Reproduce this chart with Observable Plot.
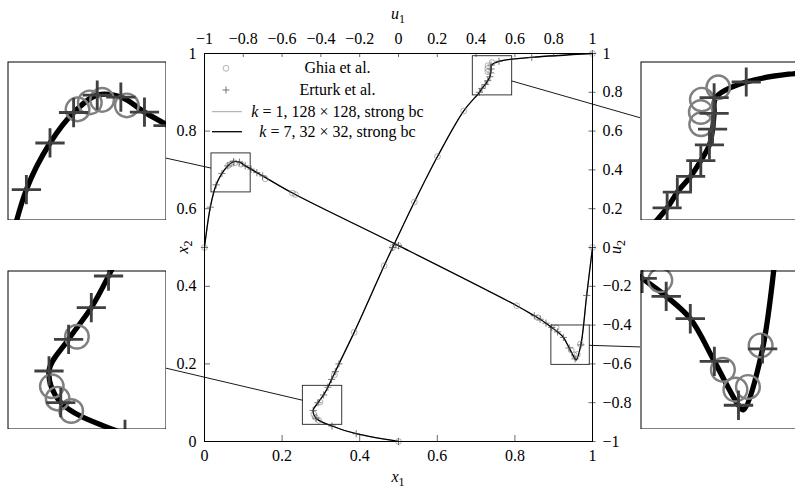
<!DOCTYPE html>
<html><head><meta charset="utf-8">
<script src="https://cdn.jsdelivr.net/npm/d3@7"></script>
<script src="https://cdn.jsdelivr.net/npm/@observablehq/plot@0.6"></script>
<style>
html,body{margin:0;padding:0;background:#fff;overflow:hidden;}
#root{position:relative;width:795px;height:487px;overflow:hidden;}
#root > svg{position:absolute;}
#root svg text, #root svg tspan{font-family:"Liberation Serif","DejaVu Serif",serif !important;}
</style></head>
<body><div id="root"></div>
<script>
const FONT = '"Liberation Serif", "DejaVu Serif", serif';

// tick values
const x1Ticks = [0, 0.2, 0.4, 0.6, 0.8, 1];
const x2Ticks = [0, 0.2, 0.4, 0.6, 0.8, 1];
const u1Ticks = [-1, -0.8, -0.6, -0.4, -0.2, 0, 0.2, 0.4, 0.6, 0.8, 1];
const u2Ticks = [-1, -0.8, -0.6, -0.4, -0.2, 0, 0.2, 0.4, 0.6, 0.8, 1];

// u1 along the vertical centre line: [x2, u1]
const ghiaU = [[0,0],[0.0547,-0.41165],[0.0625,-0.42901],[0.0703,-0.43643],[0.1016,-0.40435],[0.1719,-0.33050],[0.2813,-0.22855],[0.4531,-0.07404],[0.5,-0.03039],[0.6172,0.08183],[0.7344,0.20087],[0.8516,0.33556],[0.9531,0.46036],[0.9609,0.45992],[0.9688,0.46120],[0.9766,0.48223],[1,1]];
const erturkU = [[0,0],[0.02,-0.218],[0.04,-0.343],[0.06,-0.425],[0.08,-0.440],[0.10,-0.415],[0.12,-0.386],[0.14,-0.364],[0.16,-0.345],[0.18,-0.326],[0.20,-0.307],[0.5,-0.030],[0.90,0.417],[0.91,0.430],[0.92,0.447],[0.93,0.460],[0.94,0.471],[0.95,0.475],[0.96,0.477],[0.97,0.477],[0.98,0.518],[0.99,0.687],[1,1]];
const solU = [[0,0],[0.02,-0.218],[0.04,-0.343],[0.06,-0.425],[0.08,-0.440],[0.10,-0.415],[0.12,-0.386],[0.14,-0.364],[0.16,-0.345],[0.18,-0.326],[0.20,-0.307],[0.2813,-0.2286],[0.4531,-0.0740],[0.5,-0.030],[0.6172,0.0818],[0.7344,0.2009],[0.8516,0.3356],[0.90,0.417],[0.91,0.430],[0.92,0.447],[0.93,0.460],[0.94,0.471],[0.95,0.475],[0.96,0.477],[0.97,0.479],[0.98,0.518],[0.99,0.687],[1,1]];

// u2 along the horizontal centre line: [x1, u2]
const ghiaV = [[0,0],[0.0625,0.42447],[0.0703,0.43329],[0.0781,0.43648],[0.0938,0.42951],[0.1563,0.35368],[0.2266,0.28066],[0.2344,0.27280],[0.5,0.00945],[0.8047,-0.30018],[0.8594,-0.36214],[0.9063,-0.41442],[0.9453,-0.52876],[0.9531,-0.55408],[0.9609,-0.55069],[0.9688,-0.49774],[1,0]];
const erturkV = [[0,0],[0.015,0.208],[0.03,0.323],[0.045,0.382],[0.06,0.4205],[0.075,0.4425],[0.09,0.440],[0.105,0.421],[0.12,0.404],[0.135,0.386],[0.15,0.369],[0.5,0.0097],[0.85,-0.352],[0.865,-0.370],[0.88,-0.390],[0.895,-0.412],[0.91,-0.435],[0.925,-0.4635],[0.94,-0.518],[0.955,-0.574],[0.97,-0.502],[0.985,-0.247],[1,0]];
const solV = [[0,0],[0.015,0.208],[0.03,0.323],[0.045,0.382],[0.06,0.4205],[0.075,0.4425],[0.09,0.440],[0.105,0.421],[0.12,0.404],[0.135,0.386],[0.15,0.369],[0.2266,0.2807],[0.5,0.0097],[0.8047,-0.300],[0.85,-0.352],[0.865,-0.370],[0.88,-0.390],[0.895,-0.412],[0.91,-0.435],[0.925,-0.4635],[0.94,-0.518],[0.955,-0.574],[0.958,-0.580],[0.97,-0.502],[0.985,-0.247],[1,0]];

// zoom boxes: [a0, a1, b0, b1] in each profile's own axes
const spyVTop = [0.018, 0.119, 0.284, 0.485];      // x1, u2
const spyUBottom = [-0.493, -0.290, 0.043, 0.1435]; // u1, x2
const spyUTop = [0.383, 0.586, 0.892, 0.993];       // u1, x2
const spyVBottom = [0.894, 0.993, -0.605, -0.402];  // x1, u2

const legendLabels = ["Ghia et al.", "Erturk et al.", [" = 1, 128 \u00d7 128, strong bc"], [" = 7, 32 \u00d7 32, strong bc"]];

const u2x = u => (u + 1) / 2;
const fmt = v => v < 0 ? "\u2212" + String(-v) : String(v);
const plusSym = {draw(ctx, size) { const h = Math.sqrt(size / Math.PI); ctx.moveTo(-h, 0); ctx.lineTo(h, 0); ctx.moveTo(0, -h); ctx.lineTo(0, h); }};

function dataMarks(m, clip) {
  const U = {x: d => u2x(d[1]), y: d => d[0]};
  const V = {x: d => d[0], y: d => u2x(d[1])};
  return [
    Plot.line(solU, {...U, curve: "catmull-rom", stroke: "#8c8c8c", strokeWidth: 0.8 * m, clip}),
    Plot.line(solV, {...V, curve: "catmull-rom", stroke: "#8c8c8c", strokeWidth: 0.8 * m, clip}),
    Plot.line(solU, {...U, curve: "catmull-rom", stroke: "#000", strokeWidth: 1.3 * m, clip}),
    Plot.line(solV, {...V, curve: "catmull-rom", stroke: "#000", strokeWidth: 1.3 * m, clip}),
    Plot.dot(ghiaU, {...U, r: 2.9 * m, stroke: "#808080", strokeWidth: 0.6 * m, fill: "none", clip}),
    Plot.dot(ghiaV, {...V, r: 2.9 * m, stroke: "#808080", strokeWidth: 0.6 * m, fill: "none", clip}),
    Plot.dot(erturkU, {...U, symbol: plusSym, r: 3.6 * m, stroke: "#404040", strokeWidth: 0.7 * m, fill: "none", clip}),
    Plot.dot(erturkV, {...V, symbol: plusSym, r: 3.6 * m, stroke: "#404040", strokeWidth: 0.7 * m, fill: "none", clip})
  ];
}

const W = 795, H = 487, ML = 204, MR = 203, MT = 53, MB = 46;
const inner = W - ML - MR;
const tk = 1 / inner;

const boxes = [
  {x0: spyVTop[0], x1: spyVTop[1], y0: u2x(spyVTop[2]), y1: u2x(spyVTop[3]), left: 7, top: 61},
  {x0: u2x(spyUBottom[0]), x1: u2x(spyUBottom[1]), y0: spyUBottom[2], y1: spyUBottom[3], left: 7, top: 270},
  {x0: u2x(spyUTop[0]), x1: u2x(spyUTop[1]), y0: spyUTop[2], y1: spyUTop[3], left: 640, top: 61},
  {x0: spyVBottom[0], x1: spyVBottom[1], y0: u2x(spyVBottom[2]), y1: u2x(spyVBottom[3]), left: 640, top: 270}
];

const txt = {fontFamily: FONT, fontSize: 16, fill: "#000"};
const tickStyle = {stroke: "#444", strokeWidth: 0.8};

const main = Plot.plot({
  width: W, height: H,
  marginLeft: ML, marginRight: MR, marginTop: MT, marginBottom: MB,
  x: {domain: [0, 1], axis: null},
  y: {domain: [0, 1], axis: null},
  style: {fontFamily: FONT, background: "transparent", overflow: "visible"},
  marks: [
    ...dataMarks(1, false),
    Plot.rect(boxes, {x1: "x0", x2: "x1", y1: "y0", y2: "y1", fill: "none", stroke: "#222", strokeWidth: 0.9}),
    Plot.ruleX(x1Ticks, {x: d => d, y1: 0, y2: 6 * tk, ...tickStyle}),
    Plot.ruleX(u1Ticks, {x: u2x, y1: 1, y2: 1 - 4 * tk, ...tickStyle}),
    Plot.ruleY(x2Ticks, {y: d => d, x1: 0, x2: 6 * tk, ...tickStyle}),
    Plot.ruleY(u2Ticks, {y: u2x, x1: 1 - 3.5 * tk, x2: 1 + 3.5 * tk, ...tickStyle}),
    Plot.text(x1Ticks, {x: d => d, text: fmt, frameAnchor: "bottom", lineAnchor: "top", dy: 8, ...txt}),
    Plot.text(u1Ticks, {x: u2x, text: fmt, frameAnchor: "top", lineAnchor: "bottom", dy: -10, ...txt}),
    Plot.text(x2Ticks, {y: d => d, text: fmt, frameAnchor: "left", textAnchor: "end", dx: -8, ...txt}),
    Plot.text(u2Ticks, {y: u2x, text: fmt, frameAnchor: "right", textAnchor: "start", dx: 10, ...txt}),
    Plot.frame({stroke: "#000", strokeWidth: 1})
  ]
});
main.style.left = "0px"; main.style.top = "0px";
const root = document.getElementById("root");
root.appendChild(main);

const sx = main.scale("x"), sy = main.scale("y");
const svg = d3.select(main);

// axis titles
function title(x, y, base, sub, rot) {
  const t = svg.append("text").attr("font-family", FONT).attr("font-size", 16).attr("text-anchor", "middle")
    .attr("transform", `translate(${x},${y})` + (rot ? " rotate(-90)" : ""));
  t.append("tspan").attr("font-style", "italic").text(base);
  t.append("tspan").attr("font-size", 12).attr("dy", 4).text(sub);
}
const cx = sx.apply(0.5), cy = sy.apply(0.5);
title(cx, MT - 34.5, "u", "1", false);
title(cx, H - 5.5, "x", "1", false);
title(ML - 16, cy, "x", "2", true);
title(W - MR + 29, cy, "u", "2", true);

// legend
const lg = svg.append("g").attr("font-family", FONT).attr("font-size", 16);
const mx = ML + 22, tx = ML + 133.5, rows = [68.3, 90, 111.7, 131.7];
lg.append("circle").attr("cx", mx).attr("cy", rows[0]).attr("r", 2.9).attr("fill", "none").attr("stroke", "#808080").attr("stroke-width", 0.6);
lg.append("path").attr("d", `M${mx - 3.6},${rows[1]}H${mx + 3.6}M${mx},${rows[1] - 3.6}V${rows[1] + 3.6}`).attr("stroke", "#404040").attr("stroke-width", 0.7);
lg.append("line").attr("x1", ML + 8).attr("x2", ML + 38).attr("y1", rows[2]).attr("y2", rows[2]).attr("stroke", "#8c8c8c").attr("stroke-width", 0.8);
lg.append("line").attr("x1", ML + 8).attr("x2", ML + 38).attr("y1", rows[3]).attr("y2", rows[3]).attr("stroke", "#000").attr("stroke-width", 1.3);
legendLabels.forEach((lab, i) => {
  const t = lg.append("text").attr("x", tx).attr("y", rows[i] + 5).attr("text-anchor", "middle");
  if (Array.isArray(lab)) { t.append("tspan").attr("font-style", "italic").text("k"); t.append("tspan").text(lab[0]); }
  else t.text(lab);
});

// insets
const S = 159;
const overlay = d3.select(root).append("svg").attr("width", W).attr("height", H)
  .style("position", "absolute").style("left", "0px").style("top", "0px").style("pointer-events", "none");
boxes.forEach(b => {
  const px0 = sx.apply(b.x0), px1 = sx.apply(b.x1), py0 = sy.apply(b.y0), py1 = sy.apply(b.y1);
  const m = (S / Math.abs(px1 - px0) + S / Math.abs(py1 - py0)) / 2;
  const ins = Plot.plot({
    width: S, height: S, margin: 0,
    x: {domain: [b.x0, b.x1], axis: null},
    y: {domain: [b.y0, b.y1], axis: null},
    style: {background: "#fff"},
    marks: [...dataMarks(m, true), Plot.frame({stroke: "#000", strokeWidth: 1, inset: 0.5})]
  });
  ins.style.left = b.left + "px"; ins.style.top = b.top + "px";
  root.insertBefore(ins, overlay.node());
  // connector between box and inset, clipped at both outlines
  const A = {cx: (px0 + px1) / 2, cy: (py0 + py1) / 2, hw: Math.abs(px1 - px0) / 2, hh: Math.abs(py1 - py0) / 2};
  const B = {cx: b.left + S / 2, cy: b.top + S / 2, hw: S / 2, hh: S / 2};
  const dx = B.cx - A.cx, dy = B.cy - A.cy;
  const ta = Math.min(A.hw / Math.abs(dx || 1e-9), A.hh / Math.abs(dy || 1e-9));
  const tb = 1 - Math.min(B.hw / Math.abs(dx || 1e-9), B.hh / Math.abs(dy || 1e-9));
  overlay.append("line").attr("x1", A.cx + ta * dx).attr("y1", A.cy + ta * dy)
    .attr("x2", A.cx + tb * dx).attr("y2", A.cy + tb * dy).attr("stroke", "#000").attr("stroke-width", 0.9);
});
</script></body></html>
